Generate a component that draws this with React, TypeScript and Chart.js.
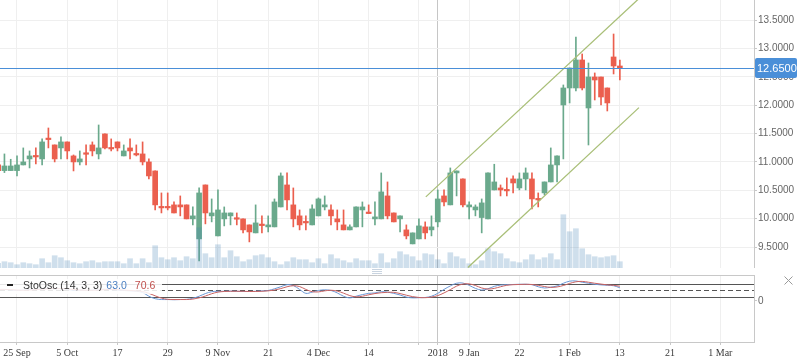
import React, { useEffect, useRef } from 'react';
import { Chart, registerables } from 'chart.js';

Chart.register(...registerables);

// ---------- data ----------
const FIRST_INDEX = -3; // trading-day index of the first candle (25 Sep = 0)

const opens = [
  10.948, 10.848, 10.848, 10.848, 10.948, 11.054, 11.107, 11.054, 11.407, 11.301,
  11.248, 11.354, 11.107, 11.001, 11.142, 11.301, 11.142, 11.495, 11.248, 11.354,
  11.107, 11.248, 11.142, 11.142, 11.001, 10.842, 10.207, 10.207, 10.243, 10.243,
  10.243, 9.996, 9.643, 10.595, 10.049, 9.696, 9.996, 10.049, 9.996, 9.996,
  9.890, 9.749, 9.890, 9.855, 9.855, 10.207, 10.595, 10.243, 10.049, 9.943,
  9.890, 10.049, 10.207, 10.154, 9.996, 9.890, 9.802, 9.855, 10.154, 10.101,
  9.996, 9.996, 10.401, 10.101, 9.996, 9.802, 9.555, 9.643, 9.855, 9.802,
  9.943, 10.401, 10.243, 10.807, 10.701, 10.207, 10.154, 10.020, 9.996, 10.507,
  10.542, 10.507, 10.701, 10.542, 10.701, 10.701, 10.348, 10.454, 10.648, 10.948,
  12.006, 12.306, 12.306, 12.800, 11.953, 12.500, 12.500, 12.306, 12.853, 12.694,
];
const highs = [
  10.970, 11.142, 11.048, 11.107, 11.248, 11.195, 11.248, 11.407, 11.600, 11.301,
  11.442, 11.354, 11.124, 11.195, 11.301, 11.354, 11.653, 11.495, 11.407, 11.354,
  11.301, 11.407, 11.301, 11.354, 11.054, 10.842, 10.454, 10.454, 10.295, 10.401,
  10.243, 10.207, 10.542, 10.595, 10.348, 10.507, 10.207, 10.101, 10.101, 9.996,
  9.890, 10.243, 10.049, 10.049, 10.348, 10.807, 10.807, 10.542, 10.154, 10.049,
  10.243, 10.366, 10.401, 10.243, 10.154, 10.154, 9.890, 10.207, 10.295, 10.243,
  10.295, 10.807, 10.648, 10.101, 10.049, 9.890, 9.749, 9.996, 9.943, 10.049,
  10.507, 10.507, 10.895, 10.842, 10.701, 10.295, 10.243, 10.348, 10.807, 10.960,
  10.595, 10.719, 10.754, 10.807, 10.895, 10.807, 10.454, 10.648, 11.248, 11.107,
  12.359, 12.659, 13.205, 12.906, 12.747, 12.571, 12.500, 12.306, 13.258, 12.800,
];
const lows = [
  10.830, 10.813, 10.848, 10.754, 10.948, 10.895, 10.966, 10.948, 11.248, 11.001,
  11.054, 11.054, 10.842, 10.948, 10.948, 11.107, 11.054, 11.230, 11.195, 11.195,
  11.107, 11.054, 11.107, 10.948, 10.701, 10.154, 10.101, 10.154, 10.101, 10.049,
  9.996, 9.890, 9.255, 9.908, 9.943, 9.696, 9.872, 9.890, 9.890, 9.749,
  9.590, 9.749, 9.749, 9.766, 9.855, 10.207, 10.154, 9.855, 9.802, 9.802,
  9.890, 10.049, 10.154, 9.890, 9.802, 9.802, 9.802, 9.855, 9.855, 10.090,
  9.890, 9.996, 9.996, 9.943, 9.766, 9.643, 9.555, 9.643, 9.643, 9.696,
  9.855, 10.225, 10.243, 10.401, 10.207, 9.996, 10.049, 9.749, 9.996, 10.507,
  10.401, 10.401, 10.454, 10.507, 10.507, 10.172, 10.207, 10.419, 10.648, 10.648,
  11.054, 12.042, 12.253, 12.271, 11.300, 12.094, 12.006, 11.900, 12.553, 12.447,
];
const closes = [
  10.848, 10.930, 10.930, 10.948, 11.001, 11.107, 11.089, 11.354, 11.395, 11.054,
  11.354, 11.195, 11.001, 11.054, 11.136, 11.195, 11.248, 11.248, 11.230, 11.248,
  11.195, 11.195, 11.124, 11.001, 10.754, 10.243, 10.190, 10.190, 10.101, 10.207,
  9.996, 10.049, 10.454, 10.101, 10.101, 10.154, 10.101, 10.101, 9.990, 9.802,
  9.766, 9.925, 9.878, 9.890, 10.295, 10.754, 10.331, 9.996, 9.890, 9.925,
  10.172, 10.348, 10.243, 10.049, 9.943, 9.802, 9.855, 10.207, 10.207, 10.090,
  10.031, 10.472, 10.049, 9.943, 10.049, 9.696, 9.749, 9.872, 9.749, 9.855,
  10.348, 10.295, 10.807, 10.842, 10.243, 10.243, 10.207, 10.278, 10.807, 10.648,
  10.507, 10.490, 10.630, 10.701, 10.807, 10.348, 10.331, 10.648, 10.948, 11.107,
  12.306, 12.659, 12.800, 12.306, 12.500, 12.447, 12.147, 12.042, 12.694, 12.650,
];
const volumes = [
  46, 63, 53, 33, 53, 43, 33, 93, 53, 123,
  103, 73, 53, 43, 63, 73, 53, 63, 63, 63,
  43, 93, 43, 93, 53, 223, 103, 83, 103, 73,
  113, 93, 403, 143, 103, 233, 103, 173, 113, 63,
  83, 123, 133, 103, 63, 33, 63, 103, 83, 83,
  53, 93, 43, 133, 93, 73, 53, 93, 73, 73,
  43, 143, 53, 93, 163, 133, 113, 73, 143, 133,
  83, 43, 153, 113, 93, 43, 33, 73, 193, 163,
  143, 93, 63, 53, 83, 133, 83, 103, 143, 83,
  533, 363, 393, 193, 133, 113, 103, 113, 123, 63,
];
const stochK = [
  55, 55, 52, 50, 52, 55, 55, 58, 60, 58,
  60, 55, 50, 52, 50, 52, 55, 56, 54, 52,
  50, 48, 46, 40, 22, 10, 6, 6, 5, 6,
  7, 12, 22, 35, 44, 46, 46, 47, 46, 45,
  45, 46, 48, 50, 58, 68, 78, 74, 55, 36,
  42, 50, 53, 50, 38, 22, 14, 22, 30, 36,
  38, 44, 42, 36, 28, 18, 14, 15, 16, 22,
  36, 55, 72, 85, 86, 75, 60, 52, 58, 70,
  76, 78, 79, 80, 80, 78, 68, 62, 66, 72,
  85, 95, 96, 90, 85, 80, 77, 75, 73, 63,
];
const stochD = [
  55, 55, 54, 52, 51, 52, 54, 56, 58, 59,
  59, 58, 55, 52, 51, 51, 52, 54, 55, 54,
  52, 50, 48, 45, 36, 24, 13, 7, 6, 6,
  6, 8, 14, 23, 34, 42, 45, 46, 46, 46,
  45, 45, 46, 48, 52, 59, 68, 73, 69, 55,
  44, 43, 48, 51, 47, 37, 25, 19, 22, 29,
  35, 39, 41, 41, 35, 27, 20, 16, 15, 18,
  25, 38, 54, 71, 81, 82, 74, 62, 57, 60,
  68, 75, 78, 79, 80, 79, 75, 69, 65, 67,
  74, 84, 92, 94, 90, 85, 81, 77, 75, 70.6,
];

const tickIndices = [0, 8, 16, 24, 32, 40, 48, 56, 64, 67, 72, 80, 88, 96, 104, 112];
const tickLabels = ['25 Sep', '5 Oct', '17', '29', '9 Nov', '21', '4 Dec', '14', '', '2018', '9 Jan', '22', '1 Feb', '13', '21', '1 Mar'];
const CROSSHAIR_INDEX = 67;
const priceTicks = [9.5, 10, 10.5, 11, 11.5, 12, 12.5, 13, 13.5];
const stochTicks = [0];
const stochLevels = [80, 50, 20];
const lastPrice = 12.65;
const upperChannel = [{ x: 65.1, y: 10.384 }, { x: 98.9, y: 13.869 }];
const lowerChannel = [{ x: 71.8, y: 9.137 }, { x: 99.04, y: 11.959 }];
const legendName = 'StoOsc (14, 3, 3)';
const legendK = '63.0';
const legendD = '70.6';

const X_MIN = -2.707;
const X_MAX = 117.36;
const PRICE_MIN = 9.1295;
const PRICE_MAX = 13.858;
const VOL_MAX = 2680;
const STOCH_MIN = -200;
const STOCH_MAX = 125;

// ---------- styles ----------
const GREEN = '#6aa98c';
const RED = '#eb5f4e';
const VOL = 'rgba(70,130,180,0.26)';
const BLUE = '#4a8fd8';
const CHANNEL = '#a9bf78';
const GRID = '#efefef';
const CROSS = '#c6c6c6';
const AXIS = '#c8c8c8';
const SANS = '"Liberation Sans", Arial, sans-serif';
const SERIF = '"Liberation Serif", "Times New Roman", serif';

const barIdx = opens.map((_, k) => FIRST_INDEX + k);

function xScale(showLabels: boolean): any {
  return {
    type: 'linear',
    min: X_MIN,
    max: X_MAX,
    offset: false,
    afterBuildTicks: (s: any) => {
      s.ticks = tickIndices.map((v) => ({ value: v }));
    },
    afterFit: (s: any) => {
      s.height = showLabels ? 21 : 0;
      s.paddingLeft = 0;
      s.paddingRight = 0;
    },
    ticks: {
      display: showLabels,
      autoSkip: false,
      maxRotation: 0,
      padding: 2,
      color: '#3a3a3a',
      font: { family: SERIF, size: 10 },
      callback: (v: any) => {
        const j = tickIndices.indexOf(Number(v));
        return j >= 0 ? tickLabels[j] : '';
      },
    },
    grid: {
      offset: false,
      color: (c: any) => (c.tick && c.tick.value === CROSSHAIR_INDEX ? CROSS : GRID),
      lineWidth: 1,
      drawTicks: showLabels,
      tickLength: 3,
      tickColor: AXIS,
    },
    border: { display: true, color: AXIS },
  };
}

const mainOverlay = {
  id: 'mainOverlay',
  afterDatasetsDraw(chart: any) {
    const { ctx, chartArea, scales } = chart;
    const y = Math.round(scales.y.getPixelForValue(lastPrice)) + 0.5;
    ctx.save();
    ctx.strokeStyle = BLUE;
    ctx.lineWidth = 1;
    ctx.beginPath();
    ctx.moveTo(chartArea.left, y);
    ctx.lineTo(chartArea.right, y);
    ctx.stroke();
    ctx.restore();
  },
  afterDraw(chart: any) {
    const { ctx, chartArea, scales, width } = chart;
    const y = Math.round(scales.y.getPixelForValue(lastPrice));
    const x0 = chartArea.right + 1;
    const w = width - x0 - 1;
    const h = 20;
    ctx.save();
    ctx.fillStyle = BLUE;
    ctx.beginPath();
    (ctx as any).roundRect(x0, y - h / 2, w, h, 2);
    ctx.fill();
    ctx.fillStyle = '#ffffff';
    ctx.font = `11px ${SANS}`;
    ctx.textBaseline = 'middle';
    ctx.textAlign = 'left';
    ctx.fillText(lastPrice.toFixed(4), x0 + 2, y + 0.5);
    ctx.restore();
  },
};

const subOverlay = {
  id: 'subOverlay',
  beforeDatasetsDraw(chart: any) {
    const { ctx, chartArea, scales } = chart;
    ctx.save();
    ctx.strokeStyle = '#555555';
    ctx.lineWidth = 1;
    stochLevels.forEach((lv) => {
      const y = Math.round(scales.y.getPixelForValue(lv)) + 0.5;
      ctx.setLineDash(lv === 50 ? [5, 3] : []);
      ctx.beginPath();
      ctx.moveTo(chartArea.left, y);
      ctx.lineTo(chartArea.right, y);
      ctx.stroke();
    });
    ctx.restore();
  },
  afterDatasetsDraw(chart: any) {
    const { ctx, chartArea } = chart;
    const top = chartArea.top;
    ctx.save();
    ctx.fillStyle = 'rgba(255,255,255,0.86)';
    ctx.fillRect(0, top + 4, 162, 15);
    ctx.fillStyle = '#222222';
    ctx.fillRect(7, top + 9, 6, 2);
    ctx.font = `10.5px ${SANS}`;
    ctx.textBaseline = 'middle';
    ctx.textAlign = 'left';
    ctx.fillStyle = '#333333';
    const nameX = 23;
    ctx.fillText(legendName, nameX, top + 11);
    const kX = nameX + ctx.measureText(legendName).width + 4;
    ctx.fillStyle = '#4a7fc2';
    ctx.fillText(legendK, kX, top + 11);
    const dX = kX + ctx.measureText(legendK).width + 8;
    ctx.fillStyle = '#c0504d';
    ctx.fillText(legendD, dX, top + 11);
    ctx.restore();
  },
  afterDraw(chart: any) {
    const { ctx, chartArea } = chart;
    ctx.save();
    ctx.strokeStyle = AXIS;
    ctx.lineWidth = 1;
    ctx.beginPath();
    ctx.moveTo(chartArea.left, chartArea.top + 0.5);
    ctx.lineTo(chartArea.right + 0.5, chartArea.top + 0.5);
    ctx.stroke();
    // drag handle
    ctx.strokeStyle = '#c9d4e0';
    [1.5, 3.5, 5.5].forEach((yy) => {
      ctx.beginPath();
      ctx.moveTo(372, yy);
      ctx.lineTo(382, yy);
      ctx.stroke();
    });
    // close icon
    ctx.strokeStyle = '#9a9a9a';
    ctx.beginPath();
    ctx.moveTo(784.5, chartArea.top + 1.5);
    ctx.lineTo(792.5, chartArea.top + 9.5);
    ctx.moveTo(792.5, chartArea.top + 1.5);
    ctx.lineTo(784.5, chartArea.top + 9.5);
    ctx.stroke();
    ctx.restore();
  },
};

export default function App() {
  const mainRef = useRef<HTMLCanvasElement>(null);
  const subRef = useRef<HTMLCanvasElement>(null);

  useEffect(() => {
    document.body.style.margin = '0';
    Chart.defaults.font.family = SANS;
    const candleColors = closes.map((c, k) => (c >= opens[k] ? GREEN : RED));

    const main = new Chart(mainRef.current as HTMLCanvasElement, {
      type: 'bar',
      data: {
        datasets: [
          {
            type: 'line',
            data: upperChannel,
            borderColor: CHANNEL,
            borderWidth: 1.3,
            pointRadius: 0,
            yAxisID: 'y',
            order: -2,
          } as any,
          {
            type: 'line',
            data: lowerChannel,
            borderColor: CHANNEL,
            borderWidth: 1.3,
            pointRadius: 0,
            yAxisID: 'y',
            order: -2,
          } as any,
          {
            data: barIdx.map((x, k) => ({ x, y: volumes[k] })),
            backgroundColor: VOL,
            barThickness: 5,
            grouped: false,
            yAxisID: 'vol',
            order: 0,
          } as any,
          {
            data: barIdx.map((x, k) => ({ x, y: [opens[k], closes[k]] })),
            backgroundColor: candleColors,
            barThickness: 5,
            minBarLength: 1.5,
            grouped: false,
            yAxisID: 'y',
            order: 1,
          } as any,
          {
            data: barIdx.map((x, k) => ({ x, y: [lows[k], highs[k]] })),
            backgroundColor: candleColors,
            barThickness: 1,
            grouped: false,
            yAxisID: 'y',
            order: 2,
          } as any,
        ],
      },
      options: {
        responsive: false,
        animation: false,
        events: [],
        layout: { padding: 0 },
        plugins: { legend: { display: false }, tooltip: { enabled: false } },
        scales: {
          x: xScale(false),
          y: {
            type: 'linear',
            position: 'right',
            min: PRICE_MIN,
            max: PRICE_MAX,
            afterBuildTicks: (s: any) => {
              s.ticks = priceTicks.map((v) => ({ value: v }));
            },
            afterFit: (s: any) => {
              s.width = 44;
              s.paddingTop = 0;
              s.paddingBottom = 0;
            },
            ticks: {
              padding: 1,
              color: '#666666',
              font: { family: SANS, size: 10 },
              callback: (v: any) => Number(v).toFixed(4),
            },
            grid: { color: GRID, tickColor: AXIS, tickLength: 3 },
            border: { display: true, color: AXIS },
          },
          vol: {
            type: 'linear',
            display: false,
            min: 0,
            max: VOL_MAX,
          },
        } as any,
      },
      plugins: [mainOverlay],
    });

    const sub = new Chart(subRef.current as HTMLCanvasElement, {
      type: 'line',
      data: {
        datasets: [
          {
            data: barIdx.map((x, k) => ({ x, y: stochD[k] })),
            borderColor: '#c96363',
            borderWidth: 1,
            pointRadius: 0,
            tension: 0.35,
          },
          {
            data: barIdx.map((x, k) => ({ x, y: stochK[k] })),
            borderColor: '#6b98d6',
            borderWidth: 1,
            pointRadius: 0,
            tension: 0.35,
          },
        ],
      },
      options: {
        responsive: false,
        animation: false,
        events: [],
        layout: { padding: { top: 7, left: 0, right: 0, bottom: 0 } },
        plugins: { legend: { display: false }, tooltip: { enabled: false } },
        scales: {
          x: xScale(true),
          y: {
            type: 'linear',
            position: 'right',
            min: STOCH_MIN,
            max: STOCH_MAX,
            afterBuildTicks: (s: any) => {
              s.ticks = stochTicks.map((v) => ({ value: v }));
            },
            afterFit: (s: any) => {
              s.width = 44;
              s.paddingTop = 0;
              s.paddingBottom = 0;
            },
            ticks: {
              padding: 1,
              color: '#666666',
              font: { family: SANS, size: 10 },
            },
            grid: { drawOnChartArea: false, tickColor: AXIS, tickLength: 3 },
            border: { display: true, color: AXIS },
          },
        } as any,
      },
      plugins: [subOverlay],
    });

    return () => {
      main.destroy();
      sub.destroy();
    };
  }, []);

  return (
    <div style={{ width: 798, height: 363, background: '#ffffff' }}>
      <canvas ref={mainRef} width={798} height={268} style={{ display: 'block' }} />
      <canvas ref={subRef} width={798} height={95} style={{ display: 'block' }} />
    </div>
  );
}
